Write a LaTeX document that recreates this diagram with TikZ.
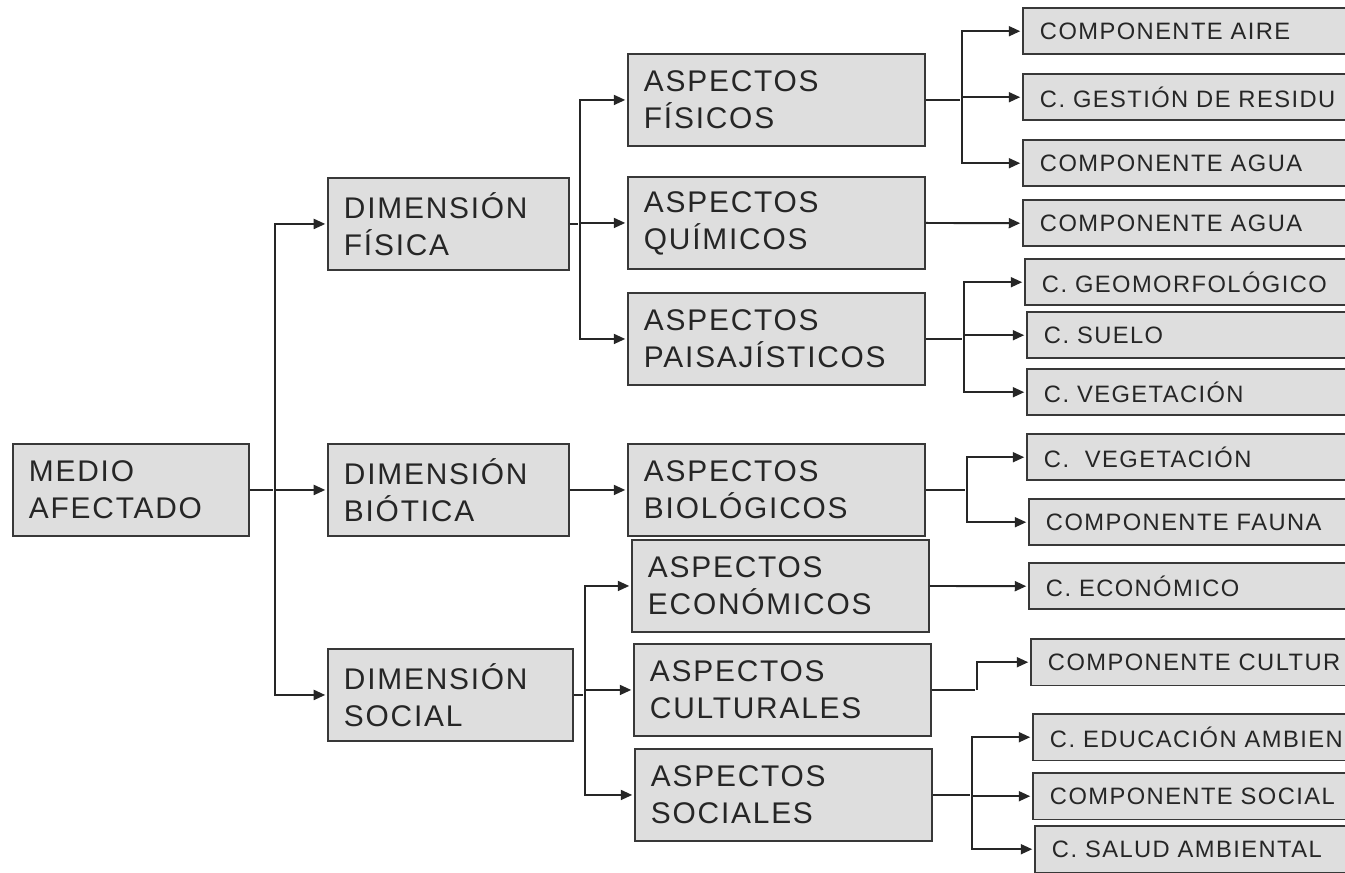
\documentclass[tikz,border=0pt]{standalone}
\usepackage{fontspec}
\usetikzlibrary{arrows.meta}
\newfontfamily\boxfont[LetterSpace=6]{Liberation Sans}
\definecolor{boxfill}{gray}{0.87}
\definecolor{boxline}{gray}{0.22}
\definecolor{ink}{gray}{0.15}

\begin{document}
\begin{tikzpicture}
    [x=0.02cm, y=-0.02cm, >={Triangle[length=2.3mm,width=2mm]},
     every node/.style={draw=boxline, fill=boxfill, line width=1.1pt, anchor=north west,
       align=left, text=ink, inner ysep=0pt},
     big/.style={font=\boxfont\fontsize{17}{21}\selectfont, inner xsep=0.32cm,
       minimum height=1.84cm, text width=#1},
     small/.style={font=\boxfont\fontsize{13.5}{16}\selectfont, inner xsep=0.34cm,
       minimum height=0.93cm, text width=12cm},
     link/.style={line width=1.1pt, draw=ink, shorten >=1pt}]

  \useasboundingbox (0,0) rectangle (1345,872);
  \clip (0,0) rectangle (1345,872);
  \fill[white] (0,0) rectangle (1345,872);

  % first levels
  \node[big=4.08cm] (M) at (12,443) {MEDIO\\AFECTADO};
  \node[big=4.18cm] (DF) at (327,177) {DIMENSIÓN\\FÍSICA};
  \node[big=4.18cm] (DB) at (327,443) {DIMENSIÓN\\BIÓTICA};
  \node[big=4.26cm] (DS) at (327,648) {DIMENSIÓN\\SOCIAL};

  \node[big=5.3cm] (AF) at (627,53) {ASPECTOS\\FÍSICOS};
  \node[big=5.3cm] (AQ) at (627,176) {ASPECTOS\\QUÍMICOS};
  \node[big=5.3cm] (AP) at (627,292) {ASPECTOS\\PAISAJÍSTICOS};
  \node[big=5.3cm] (AB) at (627,443) {ASPECTOS\\BIOLÓGICOS};
  \node[big=5.3cm] (AE) at (631,539) {ASPECTOS\\ECONÓMICOS};
  \node[big=5.3cm] (AC) at (633,643) {ASPECTOS\\CULTURALES};
  \node[big=5.3cm] (AS) at (634,748) {ASPECTOS\\SOCIALES};

  % components
  \node[small] (c1) at (1022,7) {COMPONENTE AIRE};
  \node[small] (c2) at (1022,73) {C. GESTIÓN DE RESIDU};
  \node[small] (c3) at (1022,139) {COMPONENTE AGUA};
  \node[small] (c4) at (1022,199) {COMPONENTE AGUA};
  \node[small] (c5) at (1024,258) {C. GEOMORFOLÓGICO};
  \node[small] (c6) at (1026,311) {C. SUELO};
  \node[small] (c7) at (1026,368) {C. VEGETACIÓN};
  \node[small] (c8) at (1026,433) {C.~~VEGETACIÓN};
  \node[small] (c9) at (1028,498) {COMPONENTE FAUNA};
  \node[small] (c10) at (1028,562) {C. ECONÓMICO};
  \node[small] (c11) at (1030,638) {COMPONENTE CULTUR};
  \node[small] (c12) at (1032,713) {C. EDUCACIÓN AMBIEN};
  \node[small] (c13) at (1032,772) {COMPONENTE SOCIAL};
  \node[small] (c14) at (1034,825) {C. SALUD AMBIENTAL};

  \draw[link] (M.east) -- ++(25,0) coordinate (m1);
  \draw[link,->] (m1) |- (DF.west);
  \draw[link,->] (m1) -- (DB.west);
  \draw[link,->] (m1) |- (DS.west);

  \draw[link] (DF.east) -- ++(10,0) coordinate (f1);
  \draw[link,->] (f1) |- (AF.west);
  \draw[link,->] (f1) |- (AQ.west);
  \draw[link,->] (f1) |- (AP.west);

  \draw[link,->] (DB.east) -- (AB.west);

  \draw[link] (DS.east) -- ++(11,0) coordinate (s1);
  \draw[link,->] (s1) |- (AE.west);
  \draw[link,->] (s1) |- (AC.west);
  \draw[link,->] (s1) |- (AS.west);

  \draw[link] (AF.east) -- ++(36,0) coordinate (a1);
  \draw[link,->] (a1) |- (c1.west);
  \draw[link,->] (a1) |- (c2.west);
  \draw[link,->] (a1) |- (c3.west);

  \draw[link,->] (AQ.east) -- (c4.west);

  \draw[link] (AP.east) -- ++(38,0) coordinate (a2);
  \draw[link,->] (a2) |- (c5.west);
  \draw[link,->] (a2) |- (c6.west);
  \draw[link,->] (a2) |- (c7.west);

  \draw[link] (AB.east) -- ++(41,0) coordinate (a3);
  \draw[link,->] (a3) |- (c8.west);
  \draw[link,->] (a3) |- (c9.west);

  \draw[link,->] (AE.east) -- (c10.west);

  \draw[link] (AC.east) -- ++(45,0) coordinate (a4);
  \draw[link,->] (a4) |- (c11.west);

  \draw[link] (AS.east) -- ++(39,0) coordinate (a5);
  \draw[link,->] (a5) |- (c12.west);
  \draw[link,->] (a5) |- (c13.west);
  \draw[link,->] (a5) |- (c14.west);
\end{tikzpicture}
\end{document}
